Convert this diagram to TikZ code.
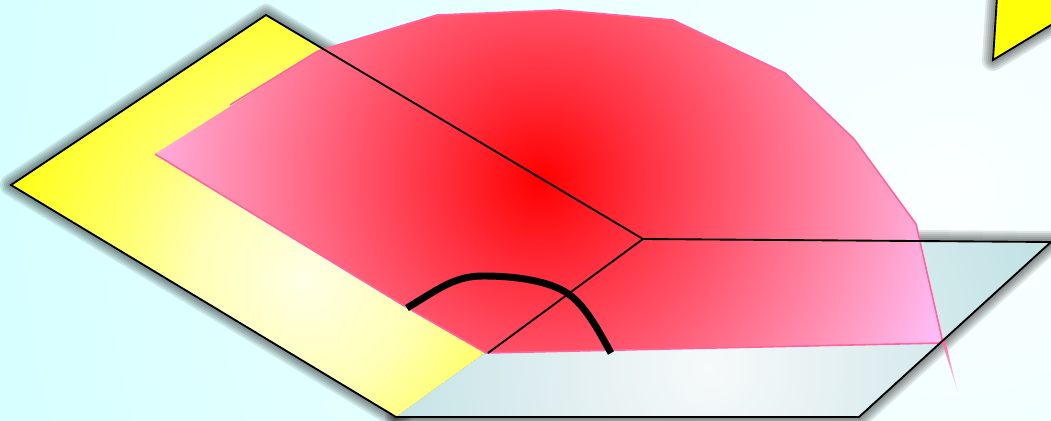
\documentclass[tikz,border=0pt]{standalone}
\usetikzlibrary{calc}
\definecolor{edgepink}{RGB}{255,100,160}
\definecolor{purey}{RGB}{255,255,10}
\pgfdeclareradialshading{bgrad}{\pgfpoint{0bp}{0bp}}{rgb(0bp)=(.985,1,1);rgb(25bp)=(.84,1,1);rgb(100bp)=(.84,1,1)}
\pgfdeclareradialshading{yellowrad}{\pgfpoint{0bp}{0bp}}{rgb(0bp)=(1,1,.9);rgb(8bp)=(1,1,.72);rgb(14bp)=(1,1,.42);rgb(25bp)=(1,1,0);rgb(100bp)=(1,1,0)}
\pgfdeclareradialshading{grayrad}{\pgfpoint{0bp}{0bp}}{rgb(0bp)=(.97,.98,.98);rgb(12.5bp)=(.87,.93,.94);rgb(25bp)=(.76,.89,.9);rgb(100bp)=(.76,.89,.9)}
\pgfdeclareradialshading{redrad}{\pgfpoint{0bp}{0bp}}{rgb(0bp)=(1,0,0);rgb(6bp)=(1,.19,.25);rgb(12.5bp)=(1,.38,.48);rgb(20bp)=(1,.6,.75);rgb(25bp)=(1,.74,.97);rgb(100bp)=(1,.74,.97)}
\newcommand{\softshadow}[2]{%
  \foreach \w in {22,18,14,10,6}{%
    \draw[black,opacity=.1,line width=\w*.75pt,line join=round,shift={#1}] #2 -- cycle;}}
\newcommand{\radfill}[5]{% path, shading, cx, cy, r
  \begin{scope}\clip #1 -- cycle;
  \shade[shading=#2] ({#3-#5},{#4-#5}) rectangle ({#3+#5},{#4+#5});
  \end{scope}}
\tikzset{thinline/.style={black,line width=1.4pt,line join=miter},
         arcline/.style={black,line width=5.2pt},
         rededge/.style={edgepink,line width=1.2pt,line join=miter}}
\begin{document}
\begin{tikzpicture}[x=.75pt,y=-.75pt]
\useasboundingbox (0,0) rectangle (1051,421);
\begin{scope}
\clip (0,0) rectangle (1051,421);
\coordinate (A) at (266,15);
\coordinate (B) at (11,185);
\coordinate (C) at (396,417);
\coordinate (D) at (643,239);
\coordinate (E) at (1051,242);
\coordinate (F) at (859,417);
\coordinate (G) at (486,353);
\coordinate (R0) at (155,154);
\coordinate (R1) at (318,51);
\coordinate (R2) at (437,15);
\coordinate (R3) at (560,10);
\coordinate (R4) at (673,20);
\coordinate (R5) at (785,73);
\coordinate (R6) at (854,139);
\coordinate (R7) at (916,224);
\coordinate (R8) at (943,343);
\coordinate (R9) at (406,307);
\coordinate (T1) at (997,-3);
\coordinate (T2) at (993,60);
\coordinate (T3) at (1056,22);
\coordinate (T4) at (1056,-3);
% background
\shade[shading=bgrad] (-40,-800) rectangle (1940,1180);
% shadows
\softshadow{(0,9)}{(A) -- (B) -- (C) -- (D)}
\softshadow{(6,9)}{(D) -- (E) -- (F) -- (C)}
\softshadow{(-5,0)}{(T1) -- (T2) -- (T3) -- (T4)}
% planes
\radfill{(A) -- (B) -- (C) -- (D)}{yellowrad}{305}{280}{340}
\radfill{(D) -- (E) -- (F) -- (C)}{grayrad}{710}{368}{340}
\fill[purey] (T1) -- (T2) -- (T3) -- (T4) -- cycle;
% red surface
\radfill{(R0) -- (R1) -- (R2) -- (R3) -- (R4) -- (R5) -- (R6) -- (R7) -- (R8) -- (G) -- (R9)}{redrad}{540}{180}{425}
\draw[rededge] (R1) -- (R2) -- (R3) -- (R4) -- (R5) -- (R6) -- (R7) -- (R8) -- (G) -- (R9) -- (R0);
\draw[rededge] (R1) -- (230,105);
\shade[top color=edgepink,bottom color=edgepink!15!white,shading angle=0] (941.5,340) -- (945.5,342) -- (958,393) -- cycle;
% black outlines
\draw[thinline] (D) -- (A) -- (B) -- (C) -- (F) -- (E) -- (D);
\draw[thinline] (D) -- (488,353);
\draw[thinline] (T1) -- (T2) -- (T3);
% thick curve
\draw[arcline] (407,308) .. controls (440,288) and (455,276) .. (483,276) .. controls (520,276) and (550,282) .. (567,293) .. controls (585,305) and (597,328) .. (611,353);
\end{scope}
\end{tikzpicture}
\end{document}
